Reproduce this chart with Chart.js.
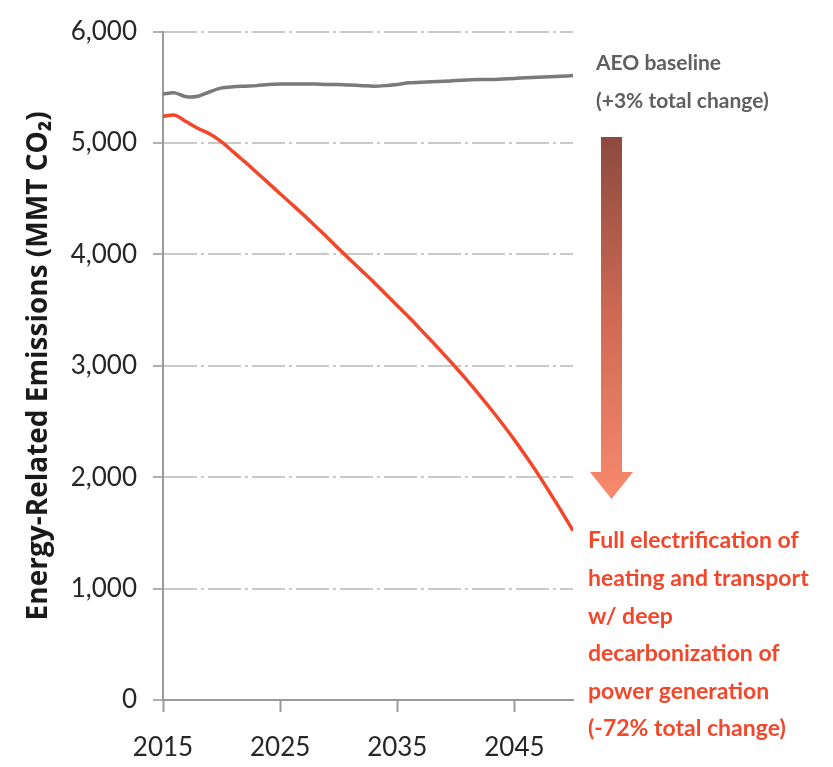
<!DOCTYPE html>
<html>
<head>
<meta charset="utf-8">
<script src="https://cdn.jsdelivr.net/npm/chart.js@4/dist/chart.umd.min.js"></script>
<style>
  html, body { margin: 0; padding: 0; background: #fff; }
  #wrap { width: 833px; height: 767px; }
</style>
</head>
<body>
<div id="wrap"><canvas id="chart"></canvas></div>
<script>
(function () {
    "use strict";

    const years = [];
    for (let y = 2015; y <= 2050; y++) years.push(y);

    const baseline = [5440, 5450, 5415, 5420, 5460, 5495, 5505, 5510, 5515, 5525,
        5530, 5530, 5530, 5530, 5525, 5525, 5520, 5515, 5510, 5515,
        5525, 5540, 5545, 5550, 5555, 5560, 5565, 5570, 5570, 5575,
        5580, 5585, 5590, 5595, 5600, 5605];

    const electrification = [5240, 5250, 5190, 5130, 5080, 5010, 4920, 4830, 4735, 4640,
        4545, 4450, 4355, 4255, 4155, 4050, 3950, 3850, 3750, 3645,
        3540, 3435, 3325, 3215, 3100, 2985, 2865, 2740, 2610, 2475,
        2335, 2185, 2030, 1865, 1695, 1520];

    const xTicks = [2015, 2025, 2035, 2045];
    const yTicks = [0, 1000, 2000, 3000, 4000, 5000, 6000];

    const baselineNote = ["AEO baseline", "(+3% total change)"];
    const electrificationNote = ["Full electrification of", "heating and transport", "w/ deep",
        "decarbonization of", "power generation", "(-72% total change)"];

    const GRAY = "#7a7a7a";
    const RED = "#f2472b";

    // Annotation texts and the gradient arrow on the right
    const notes = {
        id: "notes",
        afterDraw(chart) {
            const ctx = chart.ctx;
            const area = chart.chartArea;
            const x0 = area.right + 15;
            ctx.save();
            ctx.textBaseline = "middle";
            ctx.textAlign = "left";

            ctx.font = "bold 21px Lato";
            ctx.fillStyle = "#5f5f5f";
            baselineNote.forEach((t, i) => ctx.fillText(t, x0 + 8, 63 + i * 38));

            // arrow
            const sx = x0 + 13, sw = 21, top = 137, shaftEnd = 472, tip = 499;
            const grad = ctx.createLinearGradient(0, top, 0, tip);
            grad.addColorStop(0, "#8c4a3e");
            grad.addColorStop(0.5, "#cf6a55");
            grad.addColorStop(1, "#f8896c");
            ctx.fillStyle = grad;
            ctx.beginPath();
            ctx.moveTo(sx, top);
            ctx.lineTo(sx + sw, top);
            ctx.lineTo(sx + sw, shaftEnd);
            ctx.lineTo(sx + sw + 11, shaftEnd);
            ctx.lineTo(sx + sw / 2, tip);
            ctx.lineTo(sx - 11, shaftEnd);
            ctx.lineTo(sx, shaftEnd);
            ctx.closePath();
            ctx.fill();

            ctx.font = "bold 23px Lato";
            ctx.fillStyle = RED;
            electrificationNote.forEach((t, i) => ctx.fillText(t, x0, 541 + i * 37.6));
            ctx.restore();
        },
    };

    new Chart(document.getElementById("chart"), {
        type: "line",
        data: {
            labels: years,
            datasets: [
                {
                    label: "AEO baseline",
                    data: baseline,
                    borderColor: GRAY,
                    borderWidth: 3.5,
                    pointRadius: 0,
                    tension: 0.3,
                },
                {
                    label: "Full electrification",
                    data: electrification,
                    borderColor: RED,
                    borderWidth: 3.5,
                    pointRadius: 0,
                    tension: 0.3,
                },
            ],
        },
        options: {
            responsive: true,
            maintainAspectRatio: false,
            animation: false,
            layout: {
                padding: { top: 27, right: 260, bottom: 0, left: 22 },
            },
            plugins: {
                legend: { display: false },
                tooltip: { enabled: false },
            },
            scales: {
                x: {
                    type: "linear",
                    min: 2015,
                    max: 2050,
                    afterBuildTicks: (scale) => {
                        scale.ticks = xTicks.map((v) => ({ value: v }));
                    },
                    afterFit: (scale) => {
                        scale.height = 67;
                    },
                    ticks: {
                        autoSkip: false,
                        maxRotation: 0,
                        padding: 20,
                        color: "#262626",
                        font: { family: "Lato", size: 26 },
                        callback: (v) => String(v),
                    },
                    grid: {
                        drawOnChartArea: false,
                        drawTicks: true,
                        tickLength: 12,
                        tickColor: "#9a9a9a",
                        tickWidth: 2,
                    },
                    border: { display: true, color: "#9a9a9a", width: 2, z: 2 },
                },
                y: {
                    min: 0,
                    max: 6000,
                    afterBuildTicks: (scale) => {
                        scale.ticks = yTicks.map((v) => ({ value: v }));
                    },
                    afterFit: (scale) => {
                        scale.width = 141;
                    },
                    ticks: {
                        padding: 16,
                        color: "#262626",
                        font: { family: "Lato", size: 26 },
                        callback: (v) => v.toLocaleString("en-US"),
                    },
                    grid: {
                        color: "#c9c9c9",
                        lineWidth: 2,
                        tickLength: 10,
                        tickColor: "#b0b0b0",
                    },
                    border: { display: true, color: "#9a9a9a", width: 2, dash: [33, 4, 3, 4] },
                    title: {
                        display: true,
                        text: "Energy-Related Emissions (MMT CO\u2082)",
                        color: "#1a1a1a",
                        font: { family: "Open Sans", size: 28, weight: "bold" },
                        padding: { top: 0, bottom: 0 },
                    },
                },
            },
        },
        plugins: [notes],
    });
})();
</script>
</body>
</html>
